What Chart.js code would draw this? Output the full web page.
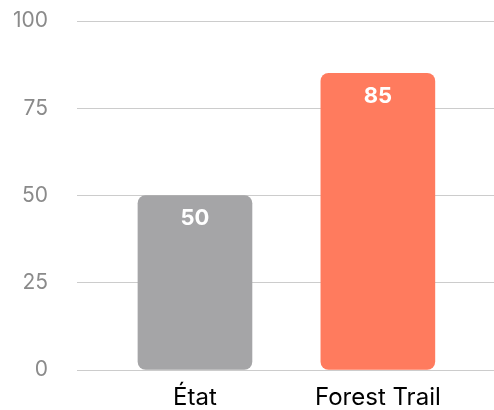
<!DOCTYPE html>
<html>
<head>
<meta charset="utf-8">
<script src="https://cdn.jsdelivr.net/npm/chart.js@4"></script>
<style>
html,body{margin:0;padding:0;background:#fff;}
#wrap{width:494px;height:410px;}
</style>
</head>
<body>
<div id="wrap"><canvas id="c"></canvas></div>
<script>
const categories = ["État", "Forest Trail"];
const values = [50, 85];
const barColors = ["#a5a5a7", "#ff7b5e"];
const yTicks = [0, 25, 50, 75, 100];

const labelPlugin = {
  id: 'barLabels',
  afterDatasetsDraw(chart) {
    const ctx = chart.ctx;
    const meta = chart.getDatasetMeta(0);
    ctx.save();
    ctx.fillStyle = '#ffffff';
    ctx.font = 'bold 22px Inter, "Noto Sans", sans-serif';
    ctx.textAlign = 'center';
    ctx.textBaseline = 'middle';
    meta.data.forEach((el, i) => {
      ctx.fillText(String(values[i]), el.x, el.y + 23);
    });
    ctx.restore();
  }
};

new Chart(document.getElementById('c'), {
  type: 'bar',
  data: {
    datasets: [{
      data: values.map((v, i) => ({x: i, y: v})),
      backgroundColor: barColors,
      borderRadius: 8,
      borderSkipped: false,
      barThickness: 114
    }]
  },
  options: {
    responsive: true,
    maintainAspectRatio: false,
    animation: false,
    devicePixelRatio: 1,
    layout: {padding: {top: 21, right: 0, left: 0, bottom: 0}},
    plugins: {legend: {display: false}, tooltip: {enabled: false}},
    scales: {
      x: {
        type: 'linear',
        offset: false,
        min: -0.645,
        max: 1.635,
        grid: {display: false},
        border: {display: false},
        afterBuildTicks(s) { s.ticks = categories.map((c, i) => ({value: i})); },
        ticks: {
          callback: (v) => categories[v] ?? '',
          color: '#000000',
          font: {family: 'Inter, "Noto Sans", sans-serif', size: 24},
          padding: 5,
          maxRotation: 0,
          autoSkip: false
        },
        afterFit(s) { s.height = 40; s.paddingLeft = 0; s.paddingRight = 0; }
      },
      y: {
        min: 0,
        max: 100,
        afterBuildTicks(s) { s.ticks = yTicks.map(v => ({value: v})); },
        grid: {color: '#cccccc', drawTicks: false, lineWidth: 1},
        border: {display: false},
        ticks: {
          color: '#8a8a8a',
          font: {family: 'Inter, "Noto Sans", sans-serif', size: 21},
          padding: 29
        },
        afterFit(s) { s.width = 77; s.paddingTop = 0; s.paddingBottom = 0; }
      }
    }
  },
  plugins: [labelPlugin]
});
</script>
</body>
</html>
